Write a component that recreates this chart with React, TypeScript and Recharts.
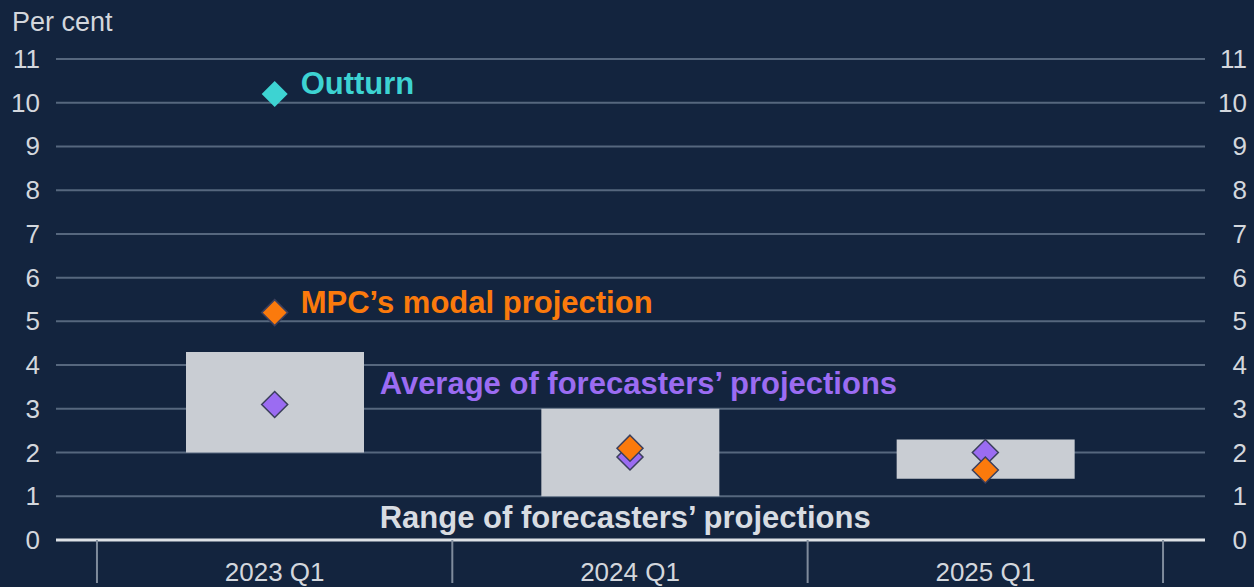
import React from 'react';
import {
  ComposedChart,
  Bar,
  Scatter,
  XAxis,
  YAxis,
  CartesianGrid,
  ReferenceLine,
  ReferenceDot,
} from 'recharts';

// quarters shown on the x axis
const categories = ['2023 Q1', '2024 Q1', '2025 Q1'];
// range of forecasters' projections (low, high)
const rangeLow = [2.0, 1.0, 1.4];
const rangeHigh = [4.3, 3.0, 2.3];
// diamonds
const averageForecast = [3.1, 1.9, 2.0];
const mpcModal = [5.2, 2.1, 1.6];
const outturn = [10.2, null, null];
const yTicks = [0, 1, 2, 3, 4, 5, 6, 7, 8, 9, 10, 11];

const data = categories.map((cat, i) => ({
  cat,
  range: [rangeLow[i], rangeHigh[i]],
  avg: averageForecast[i],
  mpc: mpcModal[i],
  outturn: outturn[i],
}));

const BG = '#13243e';
const GRID = '#56677e';
const TEXT = '#d3d7dd';
const FONT = '"Liberation Sans", Arial, sans-serif';
const HALF_BAND = 177.7;

const diamond = (fill: string, stroke: string, key: string) => (props: any) => {
  const { cx, cy, payload } = props;
  if (payload == null || payload[key] == null || cx == null || cy == null) return <g />;
  const h = 13;
  return (
    <polygon
      points={`${cx},${cy - h} ${cx + h},${cy} ${cx},${cy + h} ${cx - h},${cy}`}
      fill={fill}
      stroke={stroke}
      strokeWidth={stroke === 'none' ? 0 : 1.5}
    />
  );
};

const LeftTick = (props: any) => {
  const { y, payload } = props;
  return (
    <text x={40} y={y} textAnchor="end" dominantBaseline="central" fill={TEXT} fontSize={26} fontFamily={FONT}>
      {payload.value}
    </text>
  );
};

const RightTick = (props: any) => {
  const { y, payload } = props;
  return (
    <text x={1247} y={y} textAnchor="end" dominantBaseline="central" fill={TEXT} fontSize={26} fontFamily={FONT}>
      {payload.value}
    </text>
  );
};

const XTick = (props: any) => {
  const { x, y, payload, index } = props;
  const last = index === categories.length - 1;
  return (
    <g>
      <line x1={x - HALF_BAND} x2={x - HALF_BAND} y1={y} y2={y + 43} stroke="#7f8b9c" strokeWidth={2} />
      {last && (
        <line x1={x + HALF_BAND} x2={x + HALF_BAND} y1={y} y2={y + 43} stroke="#7f8b9c" strokeWidth={2} />
      )}
      <text x={x} y={y + 41} textAnchor="middle" fill={TEXT} fontSize={26} fontFamily={FONT}>
        {payload.value}
      </text>
    </g>
  );
};

const labelStyle = (value: string, fill: string, offset: number) => ({
  value,
  position: 'right' as const,
  offset,
  fill,
  fontSize: 31,
  fontWeight: 700,
  fontFamily: FONT,
});

export default function App() {
  return (
    <div style={{ position: 'absolute', top: 0, left: 0, width: 1254, height: 587, background: BG, overflow: 'hidden' }}>
      <div
        style={{
          position: 'absolute',
          left: 12,
          top: 7,
          color: TEXT,
          fontSize: 27,
          fontFamily: FONT,
        }}
      >
        Per cent
      </div>
      <ComposedChart
        width={1254}
        height={587}
        data={data}
        margin={{ top: 59, right: 0, left: 0, bottom: 0 }}
      >
        <CartesianGrid yAxisId="left" horizontal vertical={false} stroke={GRID} strokeWidth={2} />
        <XAxis
          dataKey="cat"
          axisLine={false}
          tickLine={false}
          tickSize={0}
          tickMargin={0}
          height={47}
          padding={{ left: 41, right: 42 }}
          tick={<XTick />}
          interval={0}
        />
        <YAxis
          yAxisId="left"
          domain={[0, 11]}
          ticks={yTicks}
          interval={0}
          width={56}
          axisLine={false}
          tickLine={false}
          tick={<LeftTick />}
        />
        <YAxis
          yAxisId="right"
          orientation="right"
          domain={[0, 11]}
          ticks={yTicks}
          interval={0}
          width={49}
          axisLine={false}
          tickLine={false}
          tick={<RightTick />}
        />
        <ReferenceLine yAxisId="left" y={0} stroke="#dde1e6" strokeWidth={3} />
        <Bar yAxisId="left" dataKey="range" barSize={178} fill="#c9cdd3" isAnimationActive={false} />
        {/* invisible series so the right-hand axis gets drawn */}
        <Scatter yAxisId="right" dataKey="avg" shape={() => <g />} isAnimationActive={false} legendType="none" />
        <Scatter yAxisId="left" dataKey="avg" shape={diamond('#9b6cf2', '#3b3f5c', 'avg')} isAnimationActive={false} />
        <Scatter yAxisId="left" dataKey="mpc" shape={diamond('#fb7a0c', '#3b3f5c', 'mpc')} isAnimationActive={false} />
        <Scatter yAxisId="left" dataKey="outturn" shape={diamond('#3dd3d2', 'none', 'outturn')} isAnimationActive={false} />
        <ReferenceDot yAxisId="left" x="2023 Q1" y={10.45} r={0} fill="none" stroke="none" label={labelStyle('Outturn', '#3dd3d2', 26)} />
        <ReferenceDot yAxisId="left" x="2023 Q1" y={5.45} r={0} fill="none" stroke="none" label={labelStyle('MPC\u2019s modal projection', '#fb7a0c', 26)} />
        <ReferenceDot yAxisId="left" x="2023 Q1" y={3.6} r={0} fill="none" stroke="none" label={labelStyle('Average of forecasters\u2019 projections', '#9b6cf2', 105)} />
        <ReferenceDot yAxisId="left" x="2023 Q1" y={0.53} r={0} fill="none" stroke="none" label={labelStyle('Range of forecasters\u2019 projections', '#d8dce2', 105)} />
      </ComposedChart>
    </div>
  );
}
